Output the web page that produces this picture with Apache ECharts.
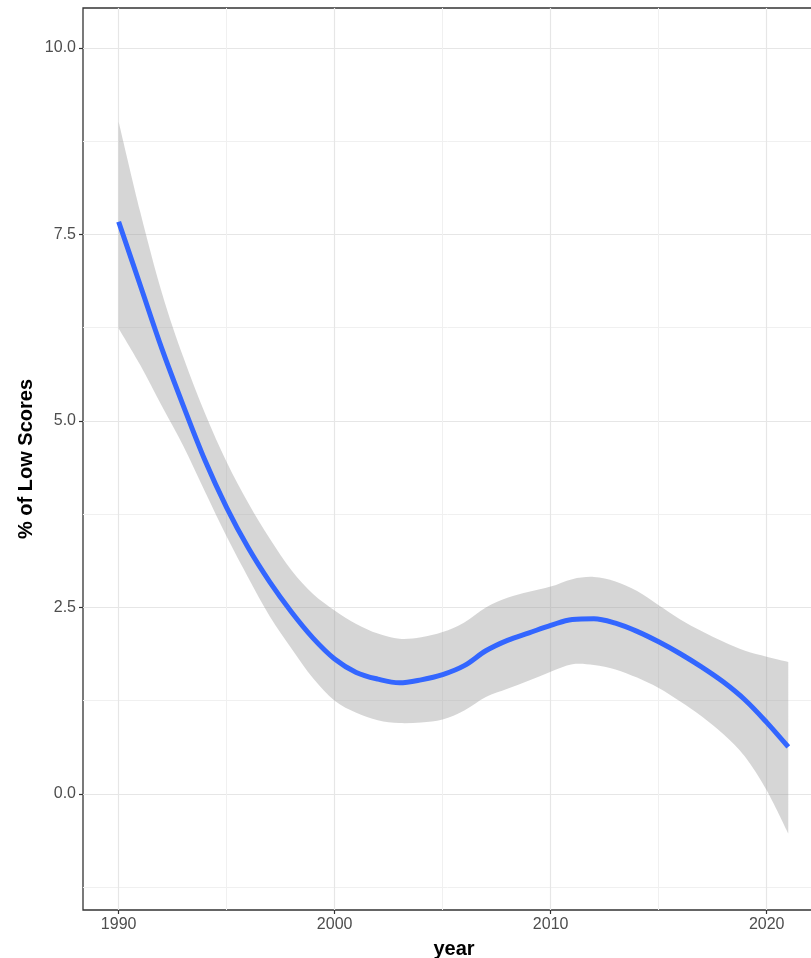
<!DOCTYPE html>
<html>
<head>
<meta charset="utf-8">
<script src="https://cdn.jsdelivr.net/npm/echarts@6/dist/echarts.min.js"></script>
<style>
	html, body { margin: 0; padding: 0; background: #fff; }
	#chart { width: 811px; height: 958px; }
</style>
</head>
<body>
<div id="chart"></div>
<script>
	// loess fit of % low scores by year, with its confidence band
	var years = [1990, 1991, 1992, 1993, 1994, 1995, 1996, 1997, 1998, 1999, 2000, 2001, 2002, 2003, 2004, 2005,
		2006, 2007, 2008, 2009, 2010, 2011, 2012, 2013, 2014, 2015, 2016, 2017, 2018, 2019, 2020, 2021];
	var fitValues = [7.67, 6.82, 5.97, 5.20, 4.47, 3.84, 3.30, 2.84, 2.44, 2.09, 1.81, 1.63, 1.54, 1.49, 1.53, 1.60,
		1.72, 1.92, 2.06, 2.16, 2.26, 2.34, 2.35, 2.29, 2.18, 2.04, 1.88, 1.70, 1.50, 1.26, 0.96, 0.63];
	var upperValues = [9.01, 7.80, 6.72, 5.85, 5.10, 4.45, 3.90, 3.42, 3.00, 2.68, 2.46, 2.28, 2.15, 2.08, 2.10, 2.17,
		2.30, 2.50, 2.63, 2.71, 2.78, 2.88, 2.91, 2.85, 2.72, 2.53, 2.34, 2.18, 2.04, 1.92, 1.84, 1.77];
	var lowerValues = [6.24, 5.75, 5.20, 4.66, 4.05, 3.45, 2.90, 2.38, 1.95, 1.55, 1.25, 1.09, 0.99, 0.95, 0.96, 1.00,
		1.12, 1.30, 1.41, 1.52, 1.64, 1.74, 1.73, 1.67, 1.56, 1.42, 1.24, 1.04, 0.80, 0.50, 0.05, -0.53];

	var xTicks = [1990, 2000, 2010, 2020];
	var xMinorTicks = [1995, 2005, 2015];
	var yTicks = [0, 2.5, 5, 7.5, 10];
	var yMinorTicks = [-1.25, 1.25, 3.75, 6.25, 8.75];

	var fitData = [];
	for (var i = 0; i < years.length; i++) {
		fitData.push([years[i], fitValues[i]]);
	}

	var xMin = 1988.35, xMax = 2022.7;
	var yMin = -1.555, yMax = 10.536;
	var tickFont = { color: '#4d4d4d', fontSize: 16, fontFamily: 'Liberation Sans, Arial, sans-serif' };

	// catmull-rom through pixel points, as bezier segments
	function curveTo(pts) {
		var s = '';
		var n = pts.length;
		for (var i = 0; i < n - 1; i++) {
			var p0 = pts[Math.max(i - 1, 0)], p1 = pts[i], p2 = pts[i + 1], p3 = pts[Math.min(i + 2, n - 1)];
			var c1x = p1[0] + (p2[0] - p0[0]) / 6, c1y = p1[1] + (p2[1] - p0[1]) / 6;
			var c2x = p2[0] - (p3[0] - p1[0]) / 6, c2y = p2[1] - (p3[1] - p1[1]) / 6;
			s += ' C' + c1x + ',' + c1y + ' ' + c2x + ',' + c2y + ' ' + p2[0] + ',' + p2[1];
		}
		return s;
	}

	function renderBand(params, api) {
		if (params.dataIndex !== 0) return null;
		var up = [], lo = [];
		for (var i = 0; i < years.length; i++) {
			up.push(api.coord([years[i], upperValues[i]]));
			lo.push(api.coord([years[i], lowerValues[i]]));
		}
		lo.reverse();
		var d = 'M' + up[0][0] + ',' + up[0][1] + curveTo(up) +
			' L' + lo[0][0] + ',' + lo[0][1] + curveTo(lo) + ' Z';
		return {
			type: 'path',
			shape: { pathData: d },
			style: { fill: 'rgba(153,153,153,0.4)', stroke: null }
		};
	}

	var chart = echarts.init(document.getElementById('chart'));
	var option = {
		animation: false,
		grid: {
			left: 83,
			top: 8,
			right: -14,
			bottom: 48,
			outerBoundsMode: 'none',
			show: true,
			borderColor: '#333333',
			borderWidth: 1.3,
			backgroundColor: 'transparent'
		},
		xAxis: [{
			type: 'value',
			min: xMin,
			max: xMax,
			name: 'year',
			nameLocation: 'middle',
			nameGap: 29,
			nameTextStyle: { color: '#000', fontSize: 20, fontWeight: 'bold', fontFamily: 'Liberation Sans, Arial, sans-serif' },
			axisLine: { show: false, onZero: false },
			axisTick: { show: true, length: 4, customValues: xTicks, lineStyle: { color: '#333333', width: 1.2 } },
			axisLabel: Object.assign({ margin: 7, customValues: xTicks, formatter: function(v) { return String(v); } }, tickFont),
			splitLine: { show: true, lineStyle: { color: '#e6e6e6', width: 1.2 } }
		}, {
			type: 'value',
			min: xMin,
			max: xMax,
			axisLine: { show: false, onZero: false },
			axisTick: { show: false, customValues: xMinorTicks },
			axisLabel: { show: false, customValues: xMinorTicks },
			splitLine: { show: true, lineStyle: { color: '#f0f0f0', width: 1 } }
		}],
		yAxis: [{
			type: 'value',
			min: yMin,
			max: yMax,
			name: '% of Low Scores',
			nameLocation: 'middle',
			nameGap: 47,
			nameMoveOverlap: false,
			nameTextStyle: { color: '#000', fontSize: 20, fontWeight: 'bold', fontFamily: 'Liberation Sans, Arial, sans-serif' },
			axisLine: { show: false, onZero: false },
			axisTick: { show: true, length: 4, customValues: yTicks, lineStyle: { color: '#333333', width: 1.2 } },
			axisLabel: Object.assign({ margin: 7, customValues: yTicks, formatter: function(v) { return v.toFixed(1); } }, tickFont),
			splitLine: { show: true, lineStyle: { color: '#e6e6e6', width: 1.2 } }
		}, {
			type: 'value',
			min: yMin,
			max: yMax,
			axisLine: { show: false, onZero: false },
			axisTick: { show: false, customValues: yMinorTicks },
			axisLabel: { show: false, customValues: yMinorTicks },
			splitLine: { show: true, lineStyle: { color: '#f0f0f0', width: 1 } }
		}],
		series: [{
			name: 'band',
			type: 'custom',
			coordinateSystem: 'cartesian2d',
			renderItem: renderBand,
			data: [[years[0], upperValues[0]]],
			encode: { x: 0, y: 1 },
			silent: true,
			z: 2
		}, {
			name: 'fit',
			type: 'line',
			data: fitData,
			smooth: 0.35,
			showSymbol: false,
			lineStyle: { color: '#3366ff', width: 5 },
			z: 3
		}]
	};
	chart.setOption(option);
</script>
</body>
</html>
